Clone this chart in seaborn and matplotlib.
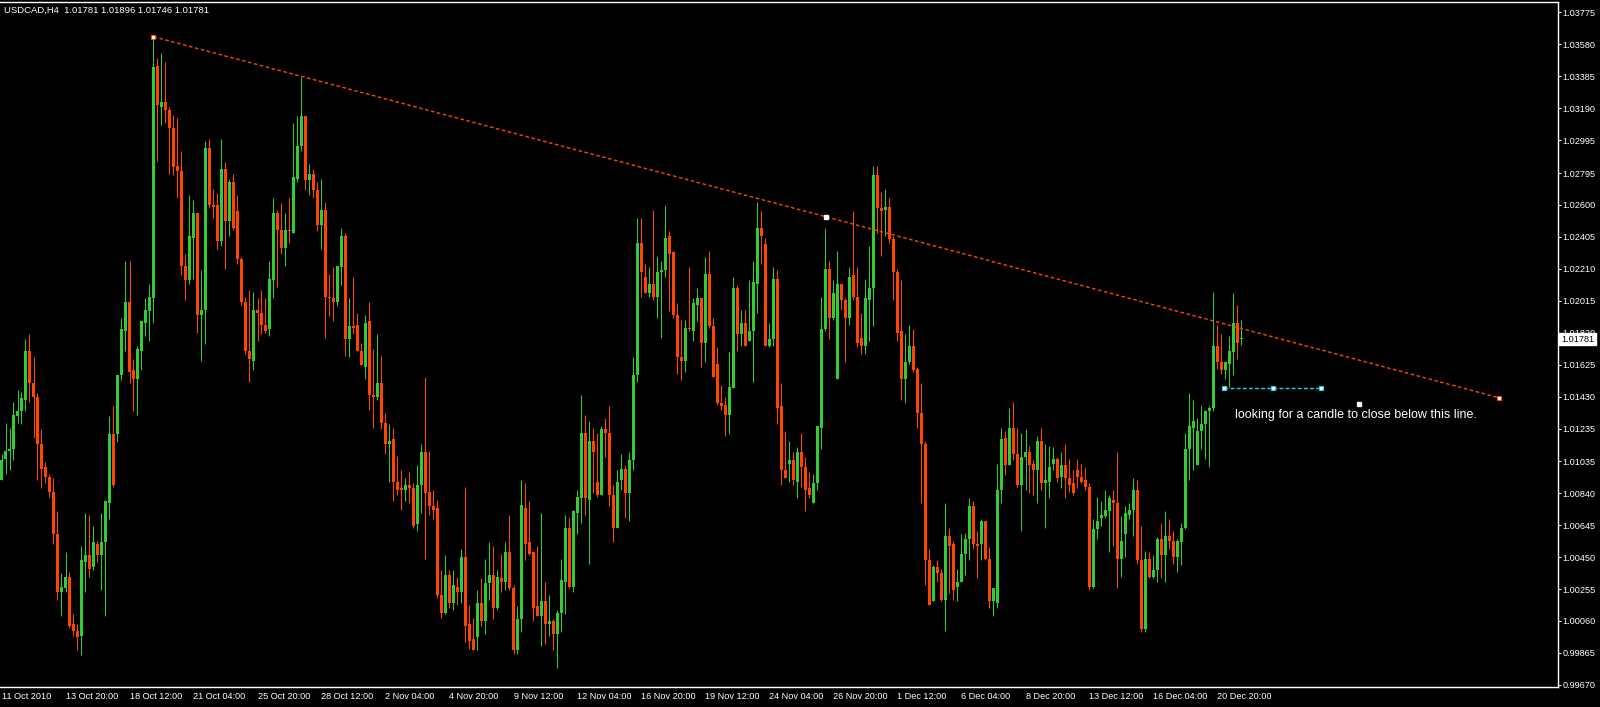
import numpy as np
import matplotlib
matplotlib.use("Agg")
import matplotlib.pyplot as plt
import seaborn as sns

symbol = "USDCAD,H4"

# H4 candles, 11 Oct 2010 -> 21 Dec 2010
opens = [
    1.0092, 1.0105, 1.0110, 1.0111, 1.0131, 1.0134, 1.0141, 1.0171, 1.0151, 1.0143,
    1.0114, 1.0100, 1.0094, 1.0085, 1.0059, 1.0024, 1.0026, 1.0033, 1.0004, 1.0000,
    0.9997, 1.0042, 1.0046, 1.0039, 1.0053, 1.0046, 1.0054, 1.0078, 1.0120, 1.0120,
    1.0156, 1.0183, 1.0201, 1.0159, 1.0154, 1.0171, 1.0188, 1.0195, 1.0203, 1.0345,
    1.0320, 1.0323, 1.0318, 1.0307, 1.0284, 1.0281, 1.0223, 1.0214, 1.0240, 1.0255,
    1.0193, 1.0196, 1.0295, 1.0260, 1.0260, 1.0238, 1.0282, 1.0250, 1.0274, 1.0256,
    1.0227, 1.0201, 1.0171, 1.0165, 1.0196, 1.0194, 1.0187, 1.0184, 1.0214, 1.0255,
    1.0245, 1.0234, 1.0245, 1.0243, 1.0276, 1.0296, 1.0314, 1.0275, 1.0279, 1.0269,
    1.0248, 1.0257, 1.0204, 1.0203, 1.0201, 1.0222, 1.0241, 1.0178, 1.0186, 1.0187,
    1.0171, 1.0161, 1.0189, 1.0144, 1.0143, 1.0151, 1.0127, 1.0114, 1.0117, 1.0091,
    1.0087, 1.0086, 1.0089, 1.0087, 1.0065, 1.0089, 1.0109, 1.0085, 1.0076, 1.0075,
    1.0022, 1.0011, 1.0034, 1.0017, 1.0027, 1.0024, 1.0045, 1.0004, 0.9995, 0.9996,
    1.0017, 1.0006, 1.0029, 1.0034, 1.0014, 1.0032, 1.0030, 1.0048, 1.0026, 0.9988,
    1.0007, 1.0075, 1.0054, 1.0048, 1.0015, 1.0009, 1.0018, 1.0004, 1.0006, 0.9998,
    1.0011, 1.0030, 1.0063, 1.0027, 1.0072, 1.0081, 1.0121, 1.0080, 1.0116, 1.0091,
    1.0083, 1.0123, 1.0121, 1.0083, 1.0063, 1.0092, 1.0099, 1.0084, 1.0104, 1.0156,
    1.0237, 1.0216, 1.0206, 1.0212, 1.0204, 1.0219, 1.0220, 1.0241, 1.0231, 1.0193,
    1.0167, 1.0165, 1.0185, 1.0183, 1.0199, 1.0203, 1.0176, 1.0218, 1.0186, 1.0163,
    1.0139, 1.0138, 1.0132, 1.0148, 1.0209, 1.0181, 1.0188, 1.0177, 1.0183, 1.0212,
    1.0246, 1.0236, 1.0174, 1.0178, 1.0215, 1.0137, 1.0098, 1.0102, 1.0104, 1.0091,
    1.0109, 1.0100, 1.0087, 1.0078, 1.0090, 1.0124, 1.0184, 1.0221, 1.0191, 1.0154,
    1.0212, 1.0202, 1.0191, 1.0217, 1.0204, 1.0179, 1.0174, 1.0202, 1.0209, 1.0278,
    1.0258, 1.0257, 1.0259, 1.0239, 1.0219, 1.0183, 1.0154, 1.0164, 1.0174, 1.0160,
    1.0133, 1.0114, 1.0043, 1.0018, 1.0039, 1.0035, 1.0019, 1.0058, 1.0053, 1.0027,
    1.0030, 1.0047, 1.0056, 1.0076, 1.0053, 1.0053, 1.0067, 1.0044, 1.0018, 1.0017,
    1.0086, 1.0118, 1.0101, 1.0124, 1.0108, 1.0089, 1.0106, 1.0109, 1.0102, 1.0098,
    1.0116, 1.0090, 1.0091, 1.0102, 1.0105, 1.0094, 1.0101, 1.0093, 1.0090, 1.0098,
    1.0094, 1.0092, 1.0088, 1.0027, 1.0062, 1.0069, 1.0070, 1.0073, 1.0080, 1.0078,
    1.0044, 1.0059, 1.0071, 1.0074, 1.0086, 1.0043, 1.0001, 1.0044, 1.0033, 1.0037,
    1.0056, 1.0046, 1.0058, 1.0055, 1.0045, 1.0054, 1.0063, 1.0111, 1.0124, 1.0101,
    1.0122, 1.0126, 1.0134, 1.0136, 1.0174, 1.0164, 1.0159, 1.0163, 1.0170, 1.0188,
    1.01781,
]
highs = [
    1.0108, 1.0127, 1.0124, 1.0140, 1.0147, 1.0146, 1.0178, 1.0181, 1.0167, 1.0145,
    1.0123, 1.0103, 1.0096, 1.0093, 1.0073, 1.0035, 1.0048, 1.0036, 1.0010, 1.0004,
    1.0052, 1.0072, 1.0071, 1.0064, 1.0055, 1.0072, 1.0080, 1.0131, 1.0137, 1.0156,
    1.0191, 1.0226, 1.0226, 1.0166, 1.0174, 1.0189, 1.0203, 1.0212, 1.0363, 1.0350,
    1.0353, 1.0347, 1.0320, 1.0315, 1.0313, 1.0293, 1.0230, 1.0266, 1.0263, 1.0255,
    1.0220, 1.0299, 1.0300, 1.0270, 1.0267, 1.0300, 1.0286, 1.0276, 1.0279, 1.0266,
    1.0228, 1.0204, 1.0208, 1.0207, 1.0203, 1.0208, 1.0203, 1.0226, 1.0264, 1.0257,
    1.0261, 1.0255, 1.0264, 1.0310, 1.0314, 1.0338, 1.0314, 1.0285, 1.0282, 1.0274,
    1.0276, 1.0262, 1.0218, 1.0222, 1.0223, 1.0246, 1.0243, 1.0203, 1.0216, 1.0194,
    1.0176, 1.0193, 1.0201, 1.0172, 1.0181, 1.0168, 1.0133, 1.0126, 1.0124, 1.0107,
    1.0098, 1.0093, 1.0097, 1.0090, 1.0101, 1.0114, 1.0155, 1.0110, 1.0086, 1.0080,
    1.0037, 1.0046, 1.0037, 1.0037, 1.0033, 1.0050, 1.0088, 1.0016, 1.0008, 1.0025,
    1.0032, 1.0044, 1.0054, 1.0052, 1.0037, 1.0047, 1.0054, 1.0071, 1.0028, 1.0015,
    1.0092, 1.0090, 1.0079, 1.0049, 1.0052, 1.0072, 1.0030, 1.0022, 1.0007, 1.0013,
    1.0044, 1.0071, 1.0069, 1.0074, 1.0086, 1.0144, 1.0132, 1.0128, 1.0124, 1.0121,
    1.0125, 1.0130, 1.0137, 1.0089, 1.0098, 1.0108, 1.0101, 1.0109, 1.0167, 1.0252,
    1.0252, 1.0224, 1.0222, 1.0257, 1.0229, 1.0226, 1.0260, 1.0244, 1.0232, 1.0200,
    1.0190, 1.0190, 1.0222, 1.0203, 1.0209, 1.0203, 1.0228, 1.0232, 1.0191, 1.0173,
    1.0150, 1.0143, 1.0170, 1.0216, 1.0211, 1.0196, 1.0196, 1.0214, 1.0226, 1.0262,
    1.0256, 1.0240, 1.0188, 1.0222, 1.0220, 1.0151, 1.0122, 1.0116, 1.0109, 1.0112,
    1.0121, 1.0106, 1.0097, 1.0096, 1.0125, 1.0204, 1.0246, 1.0226, 1.0214, 1.0232,
    1.0212, 1.0203, 1.0222, 1.0256, 1.0222, 1.0194, 1.0215, 1.0235, 1.0284, 1.0284,
    1.0268, 1.0270, 1.0264, 1.0241, 1.0221, 1.0214, 1.0181, 1.0187, 1.0184, 1.0161,
    1.0151, 1.0116, 1.0050, 1.0040, 1.0043, 1.0038, 1.0078, 1.0063, 1.0055, 1.0038,
    1.0059, 1.0060, 1.0081, 1.0079, 1.0061, 1.0068, 1.0067, 1.0051, 1.0026, 1.0102,
    1.0124, 1.0122, 1.0136, 1.0140, 1.0124, 1.0121, 1.0123, 1.0113, 1.0104, 1.0119,
    1.0124, 1.0114, 1.0113, 1.0112, 1.0106, 1.0109, 1.0114, 1.0105, 1.0098, 1.0105,
    1.0102, 1.0100, 1.0090, 1.0068, 1.0082, 1.0079, 1.0086, 1.0083, 1.0086, 1.0109,
    1.0070, 1.0076, 1.0078, 1.0093, 1.0092, 1.0064, 1.0049, 1.0048, 1.0046, 1.0057,
    1.0066, 1.0073, 1.0068, 1.0061, 1.0056, 1.0066, 1.0121, 1.0145, 1.0141, 1.0130,
    1.0138, 1.0135, 1.0137, 1.0207, 1.0187, 1.0181, 1.0165, 1.0180, 1.0206, 1.0199,
    1.01896,
]
lows = [
    1.0092, 1.0096, 1.0098, 1.0104, 1.0127, 1.0126, 1.0134, 1.0140, 1.0118, 1.0092,
    1.0087, 1.0090, 1.0082, 1.0053, 1.0019, 1.0009, 1.0024, 1.0002, 0.9997, 0.9988,
    0.9985, 1.0024, 1.0033, 1.0037, 1.0042, 1.0025, 1.0009, 1.0068, 1.0088, 1.0115,
    1.0153, 1.0171, 1.0151, 1.0134, 1.0132, 1.0159, 1.0180, 1.0177, 1.0188, 1.0287,
    1.0309, 1.0310, 1.0279, 1.0278, 1.0264, 1.0217, 1.0202, 1.0212, 1.0215, 1.0182,
    1.0165, 1.0175, 1.0258, 1.0252, 1.0233, 1.0235, 1.0221, 1.0241, 1.0245, 1.0224,
    1.0199, 1.0169, 1.0152, 1.0159, 1.0177, 1.0181, 1.0182, 1.0180, 1.0203, 1.0210,
    1.0230, 1.0223, 1.0237, 1.0243, 1.0274, 1.0293, 1.0269, 1.0266, 1.0264, 1.0244,
    1.0233, 1.0179, 1.0192, 1.0189, 1.0198, 1.0211, 1.0168, 1.0167, 1.0181, 1.0171,
    1.0162, 1.0154, 1.0135, 1.0124, 1.0141, 1.0123, 1.0108, 1.0091, 1.0079, 1.0083,
    1.0074, 1.0079, 1.0078, 1.0063, 1.0061, 1.0072, 1.0044, 1.0071, 1.0068, 1.0020,
    1.0008, 1.0010, 1.0014, 1.0013, 1.0016, 1.0017, 0.9993, 0.9989, 0.9988, 0.9988,
    1.0003, 0.9998, 1.0019, 1.0007, 1.0013, 1.0024, 1.0025, 1.0025, 0.9986, 0.9986,
    0.9999, 1.0043, 1.0046, 1.0006, 1.0009, 0.9991, 0.9992, 0.9997, 0.9988, 0.9977,
    0.9999, 1.0010, 1.0026, 1.0024, 1.0059, 1.0066, 1.0071, 1.0041, 1.0084, 1.0082,
    1.0083, 1.0106, 1.0076, 1.0054, 1.0063, 1.0086, 1.0069, 1.0067, 1.0098, 1.0152,
    1.0204, 1.0206, 1.0204, 1.0202, 1.0191, 1.0179, 1.0216, 1.0195, 1.0191, 1.0157,
    1.0153, 1.0158, 1.0183, 1.0177, 1.0189, 1.0161, 1.0164, 1.0185, 1.0155, 1.0138,
    1.0135, 1.0119, 1.0120, 1.0148, 1.0171, 1.0174, 1.0174, 1.0177, 1.0152, 1.0194,
    1.0224, 1.0174, 1.0173, 1.0174, 1.0126, 1.0089, 1.0093, 1.0091, 1.0089, 1.0081,
    1.0088, 1.0073, 1.0081, 1.0078, 1.0086, 1.0111, 1.0183, 1.0178, 1.0190, 1.0154,
    1.0196, 1.0164, 1.0187, 1.0202, 1.0173, 1.0169, 1.0169, 1.0177, 1.0186, 1.0243,
    1.0229, 1.0241, 1.0237, 1.0202, 1.0177, 1.0141, 1.0139, 1.0163, 1.0158, 1.0124,
    1.0078, 1.0028, 1.0016, 1.0018, 1.0030, 1.0018, 1.0000, 1.0023, 1.0019, 1.0018,
    1.0030, 1.0034, 1.0043, 1.0050, 1.0032, 1.0043, 1.0043, 1.0014, 1.0009, 1.0014,
    1.0078, 1.0095, 1.0101, 1.0104, 1.0088, 1.0061, 1.0086, 1.0084, 1.0083, 1.0078,
    1.0086, 1.0063, 1.0081, 1.0098, 1.0091, 1.0087, 1.0081, 1.0085, 1.0083, 1.0087,
    1.0090, 1.0086, 1.0025, 1.0026, 1.0056, 1.0064, 1.0069, 1.0048, 1.0052, 1.0026,
    1.0033, 1.0045, 1.0068, 1.0058, 1.0041, 0.9999, 0.9999, 1.0032, 1.0032, 1.0030,
    1.0032, 1.0030, 1.0050, 1.0041, 1.0036, 1.0040, 1.0062, 1.0092, 1.0098, 1.0101,
    1.0111, 1.0105, 1.0100, 1.0134, 1.0160, 1.0157, 1.0154, 1.0149, 1.0156, 1.0166,
    1.01746,
]
closes = [
    1.0104, 1.0110, 1.0111, 1.0132, 1.0134, 1.0142, 1.0171, 1.0151, 1.0143, 1.0114,
    1.0099, 1.0094, 1.0085, 1.0059, 1.0024, 1.0027, 1.0033, 1.0003, 1.0000, 0.9996,
    1.0043, 1.0046, 1.0038, 1.0054, 1.0046, 1.0054, 1.0079, 1.0120, 1.0089, 1.0156,
    1.0184, 1.0201, 1.0158, 1.0154, 1.0172, 1.0189, 1.0196, 1.0204, 1.0344, 1.0321,
    1.0323, 1.0318, 1.0307, 1.0283, 1.0281, 1.0223, 1.0214, 1.0241, 1.0255, 1.0193,
    1.0196, 1.0295, 1.0260, 1.0259, 1.0238, 1.0282, 1.0250, 1.0274, 1.0246, 1.0227,
    1.0201, 1.0171, 1.0166, 1.0196, 1.0194, 1.0187, 1.0183, 1.0215, 1.0255, 1.0245,
    1.0234, 1.0245, 1.0244, 1.0277, 1.0296, 1.0314, 1.0275, 1.0279, 1.0269, 1.0248,
    1.0257, 1.0204, 1.0203, 1.0201, 1.0223, 1.0241, 1.0178, 1.0186, 1.0185, 1.0171,
    1.0162, 1.0188, 1.0144, 1.0143, 1.0151, 1.0127, 1.0114, 1.0116, 1.0091, 1.0086,
    1.0086, 1.0089, 1.0087, 1.0064, 1.0089, 1.0109, 1.0084, 1.0076, 1.0074, 1.0022,
    1.0011, 1.0034, 1.0017, 1.0028, 1.0024, 1.0045, 1.0003, 0.9994, 0.9988, 1.0017,
    1.0006, 1.0029, 1.0034, 1.0014, 1.0033, 1.0030, 1.0048, 1.0026, 0.9988, 1.0007,
    1.0077, 1.0053, 1.0047, 1.0014, 1.0009, 1.0018, 1.0004, 1.0006, 0.9998, 1.0011,
    1.0031, 1.0063, 1.0027, 1.0073, 1.0082, 1.0121, 1.0081, 1.0116, 1.0109, 1.0083,
    1.0123, 1.0121, 1.0083, 1.0063, 1.0091, 1.0099, 1.0084, 1.0104, 1.0156, 1.0237,
    1.0219, 1.0206, 1.0212, 1.0204, 1.0219, 1.0220, 1.0240, 1.0230, 1.0193, 1.0167,
    1.0165, 1.0185, 1.0184, 1.0200, 1.0203, 1.0176, 1.0218, 1.0186, 1.0155, 1.0139,
    1.0137, 1.0132, 1.0149, 1.0209, 1.0181, 1.0188, 1.0174, 1.0183, 1.0213, 1.0246,
    1.0241, 1.0174, 1.0178, 1.0215, 1.0136, 1.0098, 1.0093, 1.0104, 1.0092, 1.0109,
    1.0100, 1.0086, 1.0083, 1.0090, 1.0125, 1.0184, 1.0221, 1.0191, 1.0206, 1.0212,
    1.0202, 1.0191, 1.0216, 1.0204, 1.0176, 1.0174, 1.0203, 1.0209, 1.0278, 1.0258,
    1.0256, 1.0259, 1.0239, 1.0219, 1.0182, 1.0154, 1.0164, 1.0174, 1.0159, 1.0133,
    1.0114, 1.0043, 1.0016, 1.0039, 1.0035, 1.0019, 1.0058, 1.0052, 1.0025, 1.0030,
    1.0047, 1.0056, 1.0076, 1.0053, 1.0052, 1.0067, 1.0044, 1.0018, 1.0026, 1.0086,
    1.0117, 1.0101, 1.0124, 1.0108, 1.0089, 1.0106, 1.0109, 1.0101, 1.0098, 1.0116,
    1.0090, 1.0092, 1.0100, 1.0105, 1.0093, 1.0101, 1.0093, 1.0089, 1.0084, 1.0094,
    1.0091, 1.0088, 1.0027, 1.0062, 1.0067, 1.0071, 1.0074, 1.0081, 1.0078, 1.0044,
    1.0055, 1.0072, 1.0074, 1.0086, 1.0043, 1.0001, 1.0044, 1.0033, 1.0037, 1.0056,
    1.0046, 1.0058, 1.0055, 1.0045, 1.0055, 1.0063, 1.0111, 1.0125, 1.0128, 1.0122,
    1.0126, 1.0134, 1.0136, 1.0174, 1.0164, 1.0159, 1.0164, 1.0171, 1.0188, 1.0176,
    1.01781,
]

date_labels = [
    "11 Oct 2010", "13 Oct 20:00", "18 Oct 12:00", "21 Oct 04:00", "25 Oct 20:00",
    "28 Oct 12:00", "2 Nov 04:00", "4 Nov 20:00", "9 Nov 12:00", "12 Nov 04:00",
    "16 Nov 20:00", "19 Nov 12:00", "24 Nov 04:00", "26 Nov 20:00", "1 Dec 12:00",
    "6 Dec 04:00", "8 Dec 20:00", "13 Dec 12:00", "16 Dec 04:00", "20 Dec 20:00",
]
bars_per_label = 16

price_ticks = [
    1.03775, 1.03580, 1.03385, 1.03190, 1.02995, 1.02795, 1.02600, 1.02405,
    1.02210, 1.02015, 1.01820, 1.01625, 1.01430, 1.01235, 1.01035, 1.00840,
    1.00645, 1.00450, 1.00255, 1.00060, 0.99865, 0.99670,
]

# drawn objects: trend line (3 anchor squares), horizontal level, note
trend_bars = [38, 206.25, 374.5]
trend_prices = [1.03627, 1.02527, 1.01422]
level_bars = [305.75, 317.9, 330]
level_prices = [1.01481, 1.01481, 1.01481]
note_text = "looking for a candle to close below this line."
note_bar, note_price = 308.5, 1.01299
note_anchor = (339.5, 1.01385)

BULL = "#32CD32"
BEAR = "#FF4500"
CYAN = "#1ECFE8"

sns.set_theme(style="dark", rc={
    "axes.facecolor": "black",
    "figure.facecolor": "black",
    "savefig.facecolor": "black",
    "axes.grid": False,
})
plt.rcParams["font.family"] = ["Liberation Sans", "DejaVu Sans"]

o = np.array(opens)
h = np.array(highs)
l = np.array(lows)
c = np.array(closes)
x = np.arange(len(o))
colors = np.where(c >= o, BULL, BEAR)

W, H = 1600, 707
fig = plt.figure(figsize=(W / 100, H / 100), dpi=100)
ax = fig.add_axes([0, 20 / H, 1558 / W, 685 / H])

# wicks and bodies
ax.vlines(x, l, h, colors=colors, linewidth=0.75, zorder=2)
body_low = np.minimum(o, c)
body_h = np.maximum(np.abs(c - o), 0.00007)
ax.bar(x, body_h, bottom=body_low, width=0.75, color=colors, linewidth=0, zorder=3)

# trend line and level line
sns.lineplot(x=trend_bars, y=trend_prices, ax=ax, color=BEAR, linewidth=1.0,
             linestyle=(0, (2.6, 1.8)), sort=False, errorbar=None, zorder=4)
sns.lineplot(x=level_bars, y=level_prices, ax=ax, color=CYAN, linewidth=1.0,
             linestyle=(0, (2.8, 1.6)), sort=False, errorbar=None, zorder=4)
ax.plot(trend_bars[::2], trend_prices[::2], "s", ms=3.5, mfc="white", mec=BEAR,
        mew=0.8, zorder=5, clip_on=False)
ax.plot(trend_bars[1], trend_prices[1], "s", ms=3.2, mfc="white", mec="white", zorder=5)
ax.plot(level_bars, level_prices, "s", ms=3.5, mfc="white", mec=CYAN, mew=0.8, zorder=5)
ax.plot(*note_anchor, "s", ms=2.5, mfc="white", mec="white", zorder=5)
ax.text(note_bar, note_price, note_text, color="white", fontsize=9,
        ha="left", va="baseline", zorder=6)

ax.set_xlim(-0.375, 389.125)
ax.set_ylim(0.99657, 1.03839)

for side in ["top", "right", "bottom"]:
    ax.spines[side].set_color("white")
    ax.spines[side].set_linewidth(1.0)
ax.spines["left"].set_visible(False)

ax.yaxis.tick_right()
ax.set_yticks(price_ticks)
ax.set_yticklabels([f"{v:.5f}" for v in price_ticks])
ax.tick_params(axis="y", colors="white", labelsize=6.6, length=2.2, width=0.7,
               pad=1.2, direction="out")
ax.set_xticks(np.arange(len(date_labels)) * bars_per_label)
ax.set_xticklabels(date_labels, ha="left")
ax.tick_params(axis="x", colors="white", labelsize=6.6, length=2.5, width=0.7,
               pad=1.2, direction="out")
ax.tick_params(left=False, labelleft=False)

# current price box on the price scale
ax.text(1.0 + 3 / 1558, c[-1], f"{c[-1]:.5f}", transform=ax.get_yaxis_transform(),
        ha="left", va="center", color="black", fontsize=6.6, zorder=10, clip_on=False,
        bbox=dict(boxstyle="square,pad=0.2", fc="white", ec="white"))

fig.text(4 / W, 1 - 10 / H,
         f"{symbol}  {o[-1]:.5f} {h[-1]:.5f} {l[-1]:.5f} {c[-1]:.5f}",
         color="white", fontsize=6.8, ha="left", va="center")

fig.savefig("out.png", dpi=100)
